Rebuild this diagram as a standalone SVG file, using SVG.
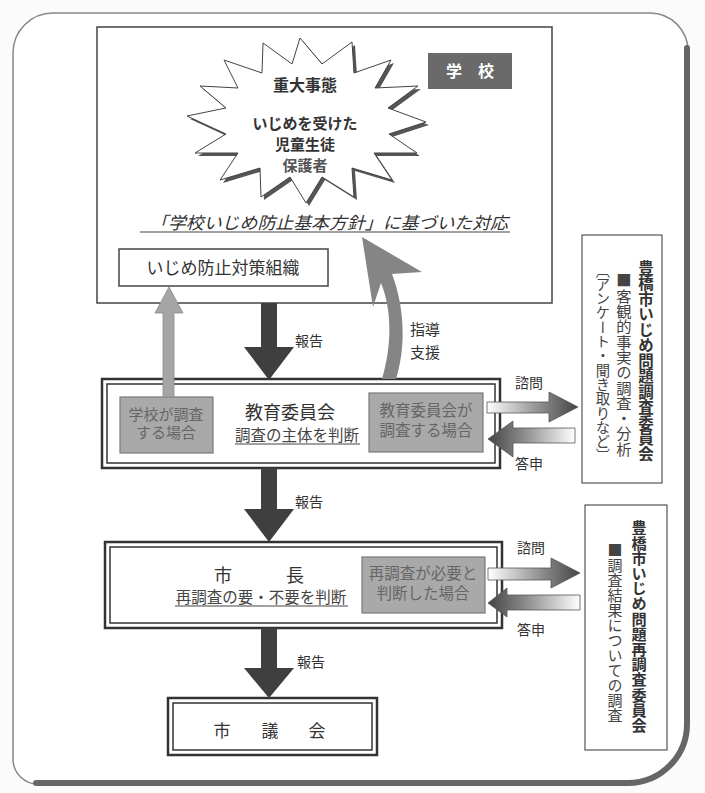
<svg xmlns="http://www.w3.org/2000/svg" width="705" height="793" viewBox="0 0 705 793">
<defs>
<style>
.t{font-family:"Liberation Sans","Noto Sans CJK JP",sans-serif;fill:#333;}
.c{text-anchor:middle;}
.b{font-weight:bold;}
.box{fill:#fff;stroke:#444;stroke-width:1.5;}
.dbo{fill:#fff;stroke:#333;stroke-width:2.5;}
.dbi{fill:none;stroke:#333;stroke-width:1.5;}
.sub{fill:#a9a9a9;stroke:#7a7a7a;stroke-width:1.2;}
.subt{fill:#666;}
.dark{fill:#3f3f3f;}
.ul{stroke:#444;stroke-width:1.2;}
.vt{writing-mode:vertical-rl;font-family:"Noto Sans CJK JP","Liberation Sans",sans-serif;}
.hz{stroke:#555;stroke-width:0.8;}
</style>
<linearGradient id="gR" x1="0" y1="0" x2="1" y2="0">
<stop offset="0" stop-color="#ffffff"/>
<stop offset="0.6" stop-color="#8a8a8a"/>
<stop offset="1" stop-color="#444444"/>
</linearGradient>
<linearGradient id="gL" x1="0" y1="0" x2="1" y2="0">
<stop offset="0" stop-color="#444444"/>
<stop offset="0.4" stop-color="#8a8a8a"/>
<stop offset="1" stop-color="#ffffff"/>
</linearGradient>
</defs>

<rect x="0" y="0" width="705" height="793" fill="#fbfbfb"/>

<g id="frame">
<path d="M53,13 L650,13 A38,38 0 0 1 688,51 L688,724 A60,60 0 0 1 628,784 L38,784 A25,25 0 0 1 13,759 L13,53 A40,40 0 0 1 53,13 Z" fill="#fff" stroke="#888" stroke-width="1.5"/>
<path d="M687,48 L687,724 A59,59 0 0 1 628,783 L36,783" fill="none" stroke="#666" stroke-width="6" stroke-linecap="round"/>
</g>

<g id="school">
<rect class="box" x="97" y="27" width="455" height="276"/>
<rect x="428" y="53" width="84" height="36" fill="#6a6a6a"/>
<text class="t c b" x="470" y="77" font-size="16" fill="#fff" style="fill:#fff">学　校</text>
</g>

<g id="incident">
<polygon points="426,122 389,134 417,153 374,153 392,180 352,168 354,197 322,177 306,203 290,177 261,197 260,168 220,180 238,153 195,153 226,134 187,116 226,108 200,86 238,88 224,60 262,73 263,43 292,64 300,38 322,64 352,42 354,73 391,60 375,88 418,86 388,108" fill="#555" transform="translate(3,3)"/>
<polygon points="426,122 389,134 417,153 374,153 392,180 352,168 354,197 322,177 306,203 290,177 261,197 260,168 220,180 238,153 195,153 226,134 187,116 226,108 200,86 238,88 224,60 262,73 263,43 292,64 300,38 322,64 352,42 354,73 391,60 375,88 418,86 388,108" fill="#fff" stroke="#444" stroke-width="1"/>
<text class="t c b" x="305" y="91" font-size="16">重大事態</text>
<text class="t c b" x="305" y="129" font-size="15">いじめを受けた</text>
<text class="t c b" x="305" y="150" font-size="15">児童生徒</text>
<text class="t c b" x="305" y="171" font-size="15" style="fill:#555">保護者</text>
</g>

<g id="policy">
<text class="t" x="150" y="229" font-size="17" font-style="italic" textLength="358" lengthAdjust="spacingAndGlyphs">「学校いじめ防止基本方針」に基づいた対応</text>
<line class="ul" x1="140" y1="232" x2="510" y2="232"/>
</g>

<g id="org">
<rect class="box" x="119" y="249" width="209" height="37" stroke="#555"/>
<text class="t c" x="223" y="274" font-size="17">いじめ防止対策組織</text>
</g>

<g id="board">
<rect class="dbo" x="102" y="379" width="398" height="89"/>
<rect class="dbi" x="107" y="384" width="388" height="79"/>
<rect class="sub" x="120" y="397" width="93" height="56"/>
<text class="t c subt" x="166" y="420" font-size="15" style="fill:#666">学校が調査</text>
<text class="t c subt" x="166" y="438" font-size="15" style="fill:#666">する場合</text>
<text class="t c" x="290" y="419" font-size="18">教育委員会</text>
<text class="t c" x="297" y="441" font-size="15.5" style="fill:#444">調査の主体を判断</text>
<line class="ul" x1="235" y1="444" x2="360" y2="444"/>
<rect class="sub" x="369" y="393" width="114" height="59"/>
<text class="t c subt" x="426" y="416" font-size="15.5" style="fill:#666">教育委員会が</text>
<text class="t c subt" x="426" y="436" font-size="15.5" style="fill:#666">調査する場合</text>
</g>

<g id="mayor">
<rect class="dbo" x="105" y="542" width="397" height="86"/>
<rect class="dbi" x="110" y="547" width="387" height="76"/>
<text class="t c" x="223" y="582" font-size="18">市</text>
<text class="t c" x="295" y="582" font-size="18">長</text>
<text class="t c" x="261" y="603" font-size="15.5" style="fill:#444">再調査の要・不要を判断</text>
<line class="ul" x1="175" y1="606" x2="348" y2="606"/>
<rect class="sub" x="362" y="557" width="123" height="56"/>
<text class="t c subt" x="423" y="579" font-size="15.5" style="fill:#666">再調査が必要と</text>
<text class="t c subt" x="423" y="599" font-size="15.5" style="fill:#666">判断した場合</text>
</g>

<g id="council">
<rect class="dbo" x="168" y="698" width="209" height="57"/>
<rect class="dbi" x="173" y="703" width="199" height="47"/>
<text class="t c" x="222" y="737" font-size="17">市</text>
<text class="t c" x="270" y="737" font-size="17">議</text>
<text class="t c" x="317" y="737" font-size="17">会</text>
</g>

<g id="committee1">
<rect x="582" y="235" width="80" height="248" fill="#fff" stroke="#555" stroke-width="1.2"/>
<text class="vt b" x="646" y="260" font-size="15.5" fill="#333">豊橋市いじめ問題調査委員会</text>
<text class="vt" x="624" y="273" font-size="15.3" fill="#444">■客観的事実の調査・分析</text>
<text class="vt" x="603" y="263" font-size="14.3" fill="#444">〔アンケート・聞き取りなど〕</text>
</g>

<g id="committee2">
<rect x="585" y="505" width="82" height="245" fill="#fff" stroke="#555" stroke-width="1.2"/>
<text class="vt b" x="639" y="520" font-size="15.2" fill="#333">豊橋市いじめ問題再調査委員会</text>
<text class="vt" x="615" y="543" font-size="15" fill="#444">■調査結果についての調査</text>
</g>

<g id="connectors">
<!-- school -> board report -->
<path class="dark" d="M261,303 L277,303 L277,347 L294,347 L269,380 L244,347 L261,347 Z"/>
<text class="t" x="295" y="346" font-size="14">報告</text>
<!-- board -> mayor -->
<path class="dark" d="M261,468 L277,468 L277,509 L294,509 L269,542 L244,509 L261,509 Z"/>
<text class="t" x="295" y="507" font-size="14">報告</text>
<!-- mayor -> council -->
<path class="dark" d="M261,628 L277,628 L277,668 L294,668 L269,698 L244,668 L261,668 Z"/>
<text class="t" x="297" y="667" font-size="14">報告</text>
<!-- school investigation up to org -->
<path d="M163,397 L163,313 L155,313 L169,287 L183,313 L174,313 L174,397 Z" fill="#a5a5a5" stroke="#8a8a8a" stroke-width="0.8"/>
<!-- guidance curved arrow -->
<path d="M362,237 L422,272 L392,274 C402,300 408,340 396,379 L382,379 C392,345 392,310 381,283 L373,307 Z" fill="#858585"/>
<text class="t" x="410" y="335" font-size="15">指導</text>
<text class="t" x="410" y="358" font-size="15">支援</text>
<!-- consult / report arrows 1 -->
<path class="hz" d="M487,402 L549,402 L549,392 L578,407 L549,422 L549,413 L487,413 Z" fill="url(#gR)"/>
<path class="hz" d="M575,428 L513,428 L513,421 L488,439 L513,457 L513,443 L575,443 Z" fill="url(#gL)"/>
<text class="t" x="515" y="388" font-size="14">諮問</text>
<text class="t" x="515" y="469" font-size="14">答申</text>
<!-- consult / report arrows 2 -->
<path class="hz" d="M488,568 L551,568 L551,558 L580,573 L551,588 L551,580 L488,580 Z" fill="url(#gR)"/>
<path class="hz" d="M580,595 L507,595 L507,588 L488,603 L507,617 L507,610 L580,610 Z" fill="url(#gL)"/>
<text class="t" x="517" y="553" font-size="14">諮問</text>
<text class="t" x="517" y="635" font-size="14">答申</text>
</g>
</svg>
